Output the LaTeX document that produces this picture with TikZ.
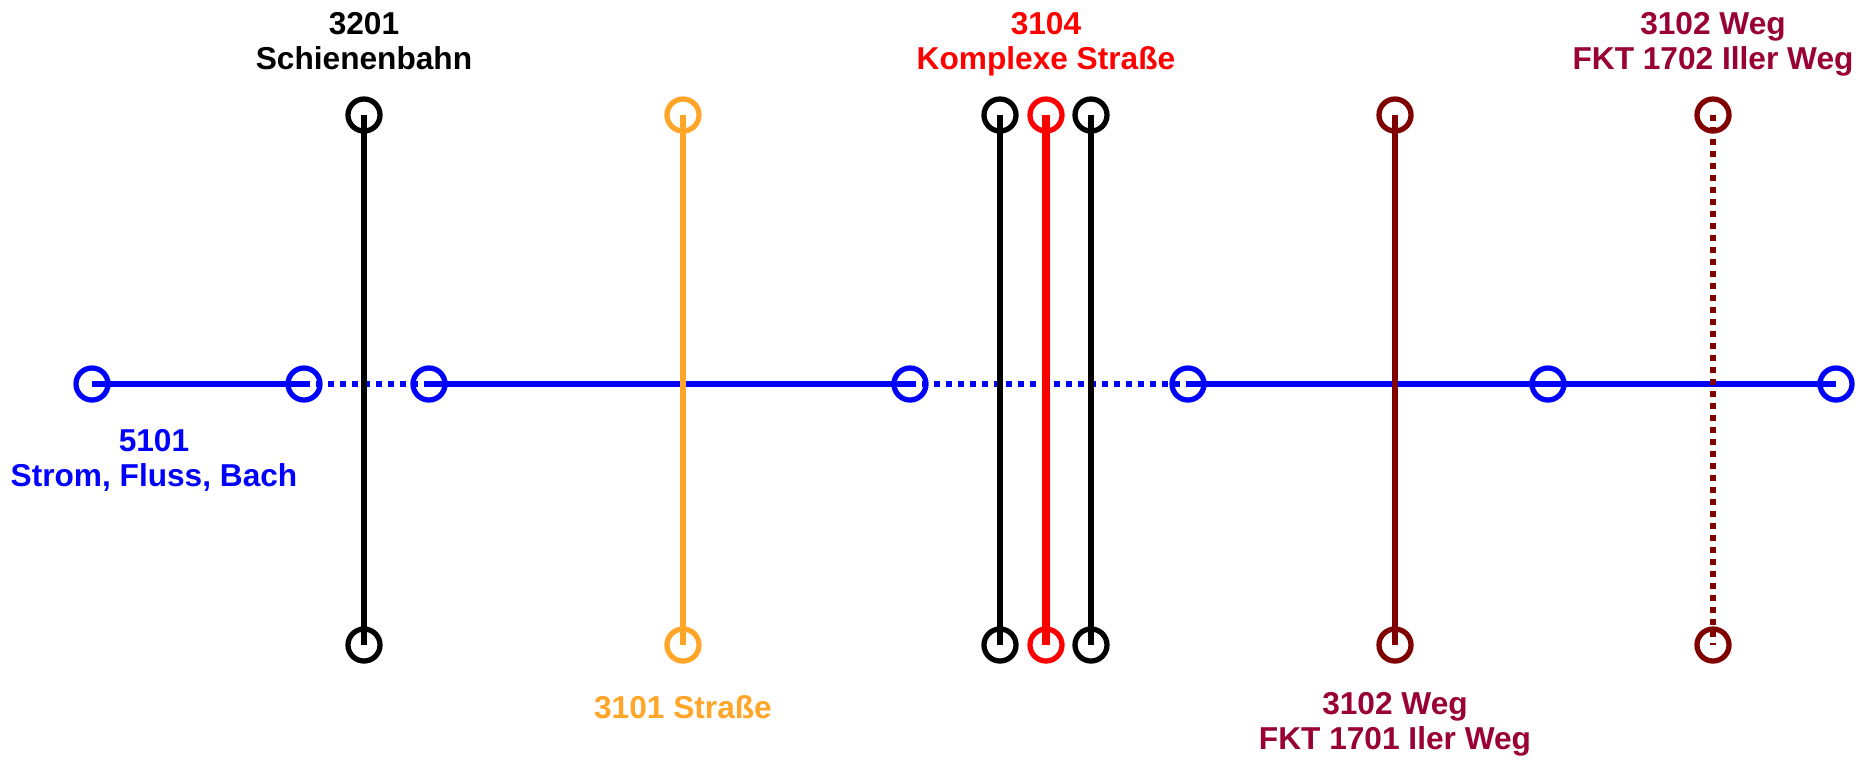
\documentclass[tikz,border=0pt]{standalone}
\usepackage{fontspec}
\setmainfont{Liberation Sans}
\definecolor{flussblau}{RGB}{0,0,255}
\definecolor{strassenorange}{RGB}{255,165,40}
\definecolor{wegrot}{RGB}{128,0,0}
\definecolor{wegtext}{RGB}{153,0,51}

\begin{document}
\begin{tikzpicture}[x=0.01cm,y=-0.01cm,font=\fontsize{9}{9.8}\selectfont\bfseries,
  halt/.style={circle,draw,line width=1.5pt,minimum size=0.32cm,inner sep=0pt},
  punkte/.style={dash pattern=on 0.06cm off 0.06cm},
  beschrift/.style={align=center,inner sep=0pt,anchor=north}]
\useasboundingbox (0,0) rectangle (1869,759);
% Fluss
\foreach \X [count=\Y] in {92,304,429,910,1188,1548,1836}
  \node[halt,draw=flussblau] (F-\Y) at (\X,384) {};
\foreach \A/\B/\S in {1/2/solid,2/3/punkte,3/4/solid,4/5/punkte,5/6/solid,6/7/solid}
  \draw[line width=1.8pt,flussblau,\S] (F-\A.center) -- (F-\B.center);
% Querungen
\foreach \X/\F/\S/\W [count=\Y] in {364/black/solid/1.6pt,683/strassenorange/solid/1.6pt,
  1000/black/solid/1.6pt,1046/red/solid/2.3pt,1091/black/solid/1.6pt,
  1395/wegrot/solid/1.6pt,1713/wegrot/punkte/1.6pt}
  {\node[halt,draw=\F] (O-\Y) at (\X,115) {};
  \node[halt,draw=\F] (U-\Y) at (\X,645) {};
  \draw[line width=\W,\F,\S] (O-\Y.center) -- (U-\Y.center);}
% Beschriftung
\node[beschrift] (T-3201) at (364,12) {3201\\Schienenbahn};
\node[beschrift,red] (T-3104) at (1046,12) {3104\\Komplexe Straße};
\node[beschrift,wegtext] (T-3102o) at (1713,12) {3102 Weg\\FKT 1702 Iller Weg};
\node[beschrift,flussblau] (T-5101) at (154,429) {5101\\Strom, Fluss, Bach};
\node[beschrift,strassenorange] (T-3101) at (683,695) {3101 Straße};
\node[beschrift,wegtext] (T-3102u) at (1395,692) {3102 Weg\\FKT 1701 Iler Weg};
\end{tikzpicture}
\end{document}
